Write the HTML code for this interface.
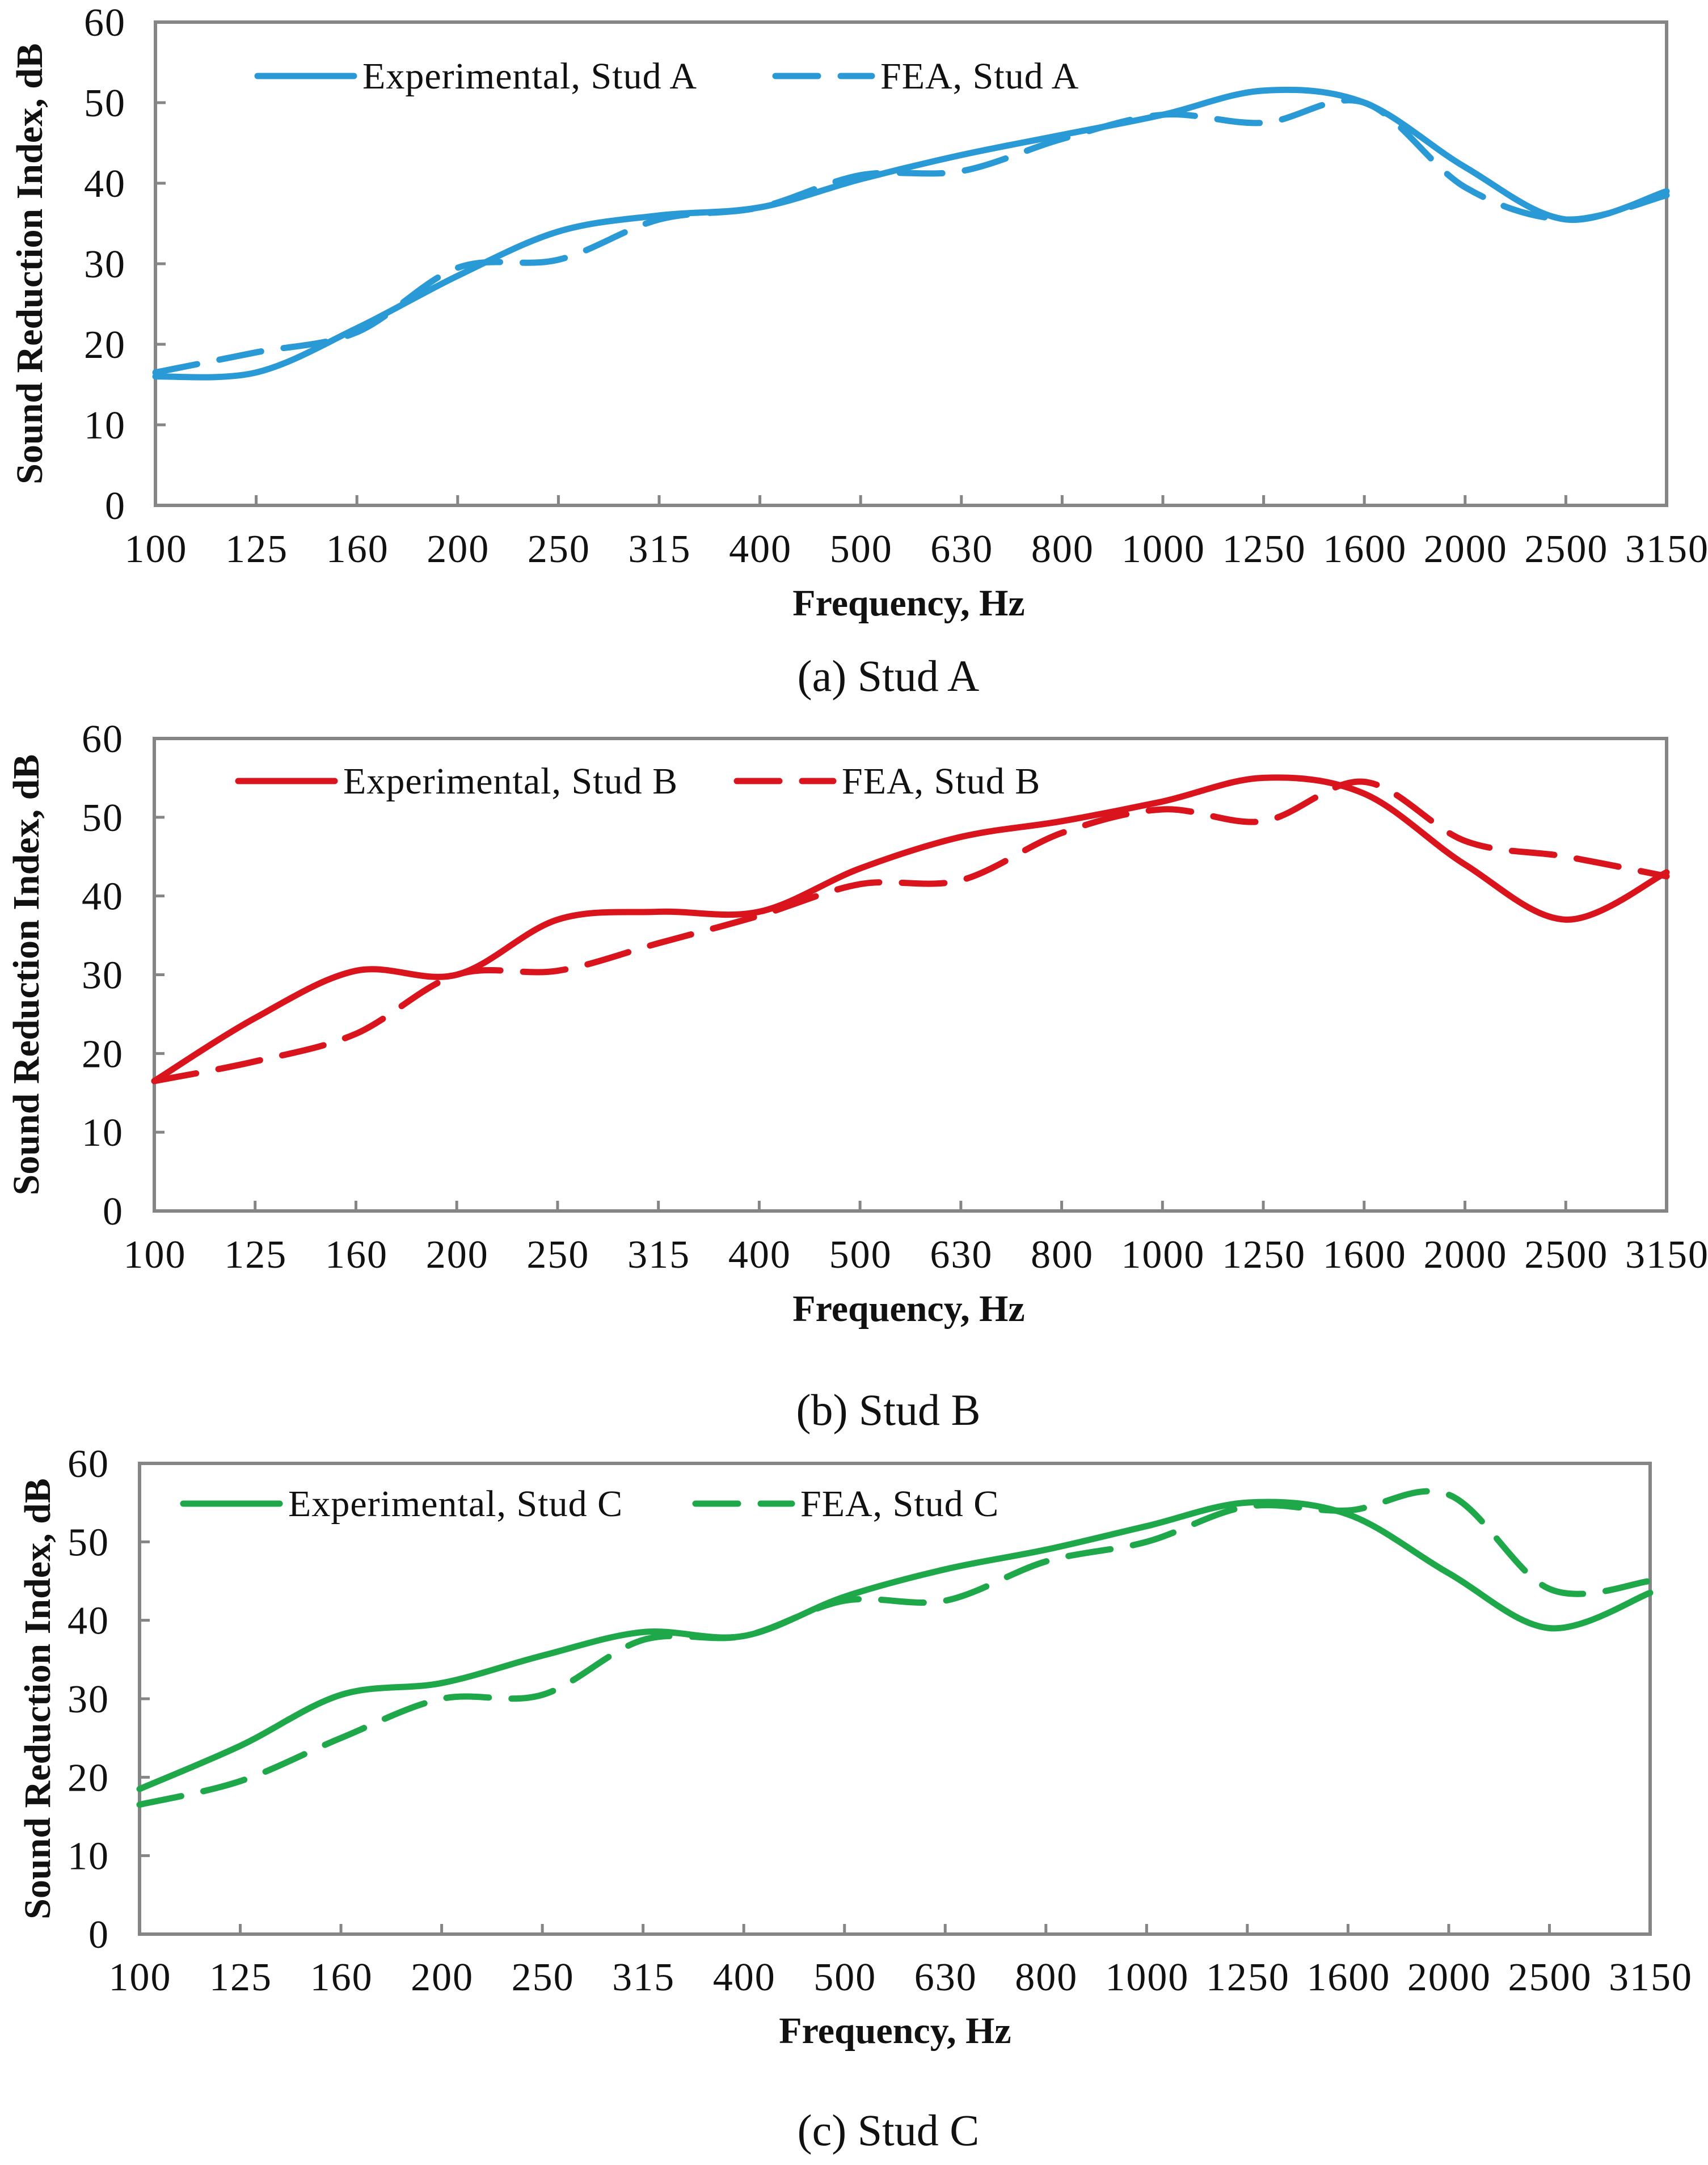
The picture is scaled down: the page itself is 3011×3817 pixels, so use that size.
<!DOCTYPE html>
<html><head><meta charset="utf-8"><style>
html,body{margin:0;padding:0;background:#fff;}
svg text{font-family:"Liberation Serif",serif;fill:#111;}
</style></head><body>
<svg id="fig" width="3011" height="3812" viewBox="0 0 3011 3812" xmlns="http://www.w3.org/2000/svg"></svg>
<script>
const categories = ["100","125","160","200","250","315","400","500","630","800","1000","1250","1600","2000","2500","3150"];
const yTicks = [0,10,20,30,40,50,60];
const expA = [16,16.5,22,28.5,34,36,37,40.5,43.5,46,48.5,51.5,50,42,35.5,39];
const feaA = [16.5,19,21.5,29.5,30.5,35.5,37,41,41.5,45.5,48.5,47.5,50,39.5,35.5,38.5];
const expB = [16.5,24.5,30.5,30,37,38,38,43.5,47.5,49.5,52,55,53,44,37,43];
const feaB = [16.5,19,22.5,30,30.5,34,37.5,41.5,42,48,51,49.5,54.5,47,45,42.5];
const expC = [18.5,24,30.5,32,35.5,38.5,38,43,46.5,49,52,55,53.5,46,39,43.5];
const feaC = [16.5,19.5,25,30,30.5,37.5,38,42.5,42.5,47.5,50,54.5,54,56,44,45];

const NS="http://www.w3.org/2000/svg";
const svg=document.getElementById('fig');
function mk(tag,attrs,parent){const e=document.createElementNS(NS,tag);for(const k in attrs)e.setAttribute(k,attrs[k]);(parent||svg).appendChild(e);return e;}

function smoothPath(pts){
  let d="M"+pts[0][0]+","+pts[0][1];
  for(let i=0;i<pts.length-1;i++){
    const p0=pts[Math.max(0,i-1)],p1=pts[i],p2=pts[i+1],p3=pts[Math.min(pts.length-1,i+2)];
    const c1=[p1[0]+(p2[0]-p0[0])/6,p1[1]+(p2[1]-p0[1])/6];
    const c2=[p2[0]-(p3[0]-p1[0])/6,p2[1]-(p3[1]-p1[1])/6];
    d+=" C"+c1[0]+","+c1[1]+" "+c2[0]+","+c2[1]+" "+p2[0]+","+p2[1];
  }
  return d;
}

function panel(cfg){
  const g=mk('g',{});
  
  
  const L=cfg.left,R=cfg.right,T=cfg.top,B=cfg.bottom;
  const xs=i=>L+(R-L)*i/(categories.length-1);
  const ys=v=>B-(B-T)*v/60;
  const frame=mk('rect',{x:L,y:T,width:R-L,height:B-T,fill:'none',stroke:'#858585','stroke-width':6},g);
  
  
  yTicks.forEach(v=>{
    const tk=mk('line',{x1:L,x2:L+18,y1:ys(v),y2:ys(v),stroke:'#858585','stroke-width':5},g);
    
    
    const t=mk('text',{x:cfg.ylabX,y:ys(v)+24,'text-anchor':'end','font-size':70,'letter-spacing':2},g);
    t.textContent=v;
    
    
  });
  categories.forEach((c,i)=>{
    const tk=mk('line',{x1:xs(i),x2:xs(i),y1:B,y2:B-18,stroke:'#858585','stroke-width':5},g);
    
    
    const t=mk('text',{x:xs(i)+1,y:cfg.xlabY,'text-anchor':'middle','font-size':70,'letter-spacing':2},g);
    t.textContent=c;
    
    
  });
  const exp=mk('path',{d:smoothPath(cfg.exp.map((v,i)=>[xs(i),ys(v)])),fill:'none',stroke:cfg.color,'stroke-width':11,'stroke-linecap':'round'},g);
  
  
  const fea=mk('path',{d:smoothPath(cfg.fea.map((v,i)=>[xs(i),ys(v)])),fill:'none',stroke:cfg.color,'stroke-width':11,'stroke-linecap':'round','stroke-dasharray':'75 40'},g);
  
  
  const l1=mk('line',{x1:cfg.leg[0],x2:cfg.leg[0]+170,y1:cfg.legY,y2:cfg.legY,stroke:cfg.color,'stroke-width':11,'stroke-linecap':'round'},g);
  
  
  const t1=mk('text',{x:cfg.leg[0]+185,y:cfg.legY+22,'font-size':66,'letter-spacing':1},g);
  t1.textContent='Experimental, '+cfg.stud;
  
  
  const l2=mk('line',{x1:cfg.leg[1],x2:cfg.leg[1]+170,y1:cfg.legY,y2:cfg.legY,stroke:cfg.color,'stroke-width':11,'stroke-linecap':'round','stroke-dasharray':'75 40'},g);
  
  
  const t2=mk('text',{x:cfg.leg[1]+185,y:cfg.legY+22,'font-size':66,'letter-spacing':1},g);
  t2.textContent='FEA, '+cfg.stud;
  
  
  const yt=mk('text',{x:0,y:0,'text-anchor':'middle','font-size':66,'font-weight':'bold',transform:'translate('+(cfg.ytX)+','+((T+B)/2)+') rotate(-90)'},g);
  yt.textContent='Sound Reduction Index, dB';
  
  
  const xt=mk('text',{x:cfg.xtX,y:cfg.xtY,'text-anchor':'middle','font-size':66,'font-weight':'bold'},g);
  xt.textContent='Frequency, Hz';
  
  
  const cap=mk('text',{x:cfg.capX,y:cfg.capY,'text-anchor':'middle','font-size':78},g);
  cap.textContent=cfg.caption;
  
  
}

panel({id:'stud-a',left:274,right:2938,top:39,bottom:891,color:'#2a9ad6',exp:expA,fea:feaA,stud:'Stud A',
  ylabX:222,xlabY:991,leg:[454,1367],legY:134,ytX:74,xtX:1602,xtY:1085,capX:1566,capY:1218,caption:'(a) Stud A'});
panel({id:'stud-b',left:272,right:2938,top:1302,bottom:2135,color:'#d9141c',exp:expB,fea:feaB,stud:'Stud B',
  ylabX:218,xlabY:2235,leg:[420,1299],legY:1377,ytX:68,xtX:1602,xtY:2329,capX:1566,capY:2512,caption:'(b) Stud B'});
panel({id:'stud-c',left:246,right:2909,top:2580,bottom:3410,color:'#1fa84a',exp:expC,fea:feaC,stud:'Stud C',
  ylabX:193,xlabY:3509,leg:[323,1226],legY:2651,ytX:88,xtX:1578,xtY:3602,capX:1566,capY:3782,caption:'(c) Stud C'});
</script>
</body></html>
